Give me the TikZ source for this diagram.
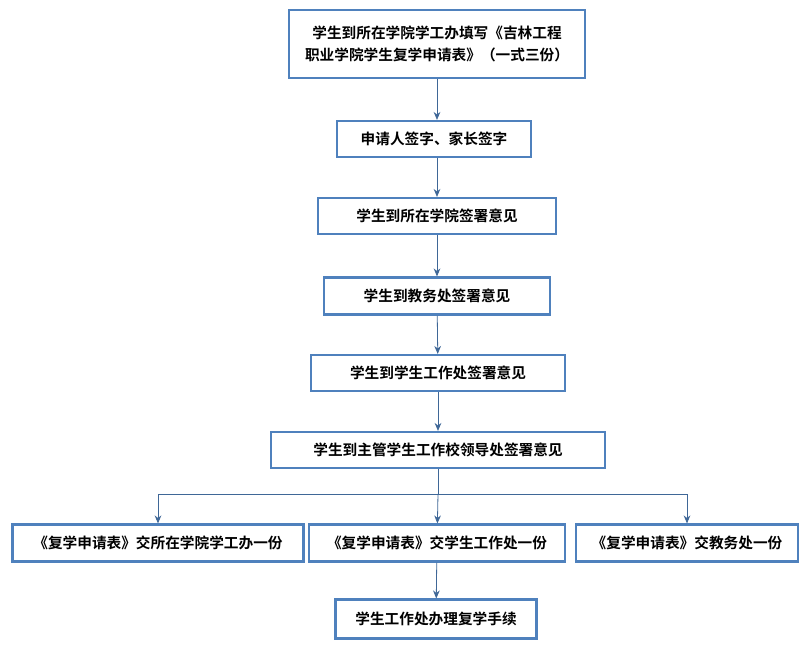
\documentclass[tikz,border=0pt]{standalone}
\usepackage{fontspec}
\newfontfamily\cjk{Noto Sans CJK SC}[BoldFont={* Bold}]
\usetikzlibrary{arrows.meta}
\definecolor{bx}{HTML}{4F81BD}
\begin{document}
\begin{tikzpicture}[x=0.75pt,y=-0.75pt,
  box/.style={draw=bx,line width=1.6pt,inner sep=0pt,font=\cjk\bfseries\fontsize{11}{17}\selectfont,align=center},
  arr/.style={draw=bx!80!black,line width=0.6pt,-{Stealth[length=6pt,width=5pt]}}]
\useasboundingbox (0,0) rectangle (811,653);
\node[box,minimum width=296*0.75pt,minimum height=68*0.75pt] (n1) at (437,44) {学生到所在学院学工办填写《吉林工程\\职业学院学生复学申请表》（一式三份）};
\node[box,minimum width=194*0.75pt,minimum height=36*0.75pt] (n2) at (434,139) {申请人签字、家长签字};
\node[box,minimum width=238*0.75pt,minimum height=36*0.75pt] (n3) at (437,216) {学生到所在学院签署意见};
\node[box,minimum width=226*0.75pt,minimum height=37*0.75pt] (n4) at (437,296) {学生到教务处签署意见};
\node[box,minimum width=254*0.75pt,minimum height=36*0.75pt] (n5) at (438,373) {学生到学生工作处签署意见};
\node[box,minimum width=334*0.75pt,minimum height=36*0.75pt] (n6) at (438,450) {学生到主管学生工作校领导处签署意见};
\node[box,minimum width=291*0.75pt,minimum height=37*0.75pt] (a) at (158,543) {《复学申请表》交所在学院学工办一份};
\node[box,minimum width=256*0.75pt,minimum height=37*0.75pt] (b) at (437,543) {《复学申请表》交学生工作处一份};
\node[box,minimum width=222*0.75pt,minimum height=37*0.75pt] (c) at (687,543) {《复学申请表》交教务处一份};
\node[box,minimum width=201*0.75pt,minimum height=39*0.75pt] (n8) at (436,619) {学生工作处办理复学手续};
\draw[arr] (n1.south -| 437,0) -- (n2.north -| 437,0);
\draw[arr] (n2.south -| 437,0) -- (n3);
\draw[arr] (n3) -- (n4);
\draw[arr] (n4) -- (n5);
\draw[arr] (n5) -- (n6);
\coordinate (j) at (438,494);
\draw[draw=bx!80!black,line width=0.6pt] (n6) -- (j) (a.north |- j) -- (c.north |- j);
\draw[arr] (a.north |- j) -- (a);
\draw[arr] (j) -- (b);
\draw[arr] (c.north |- j) -- (c);
\draw[arr] (b) -- (n8);
\end{tikzpicture}
\end{document}
